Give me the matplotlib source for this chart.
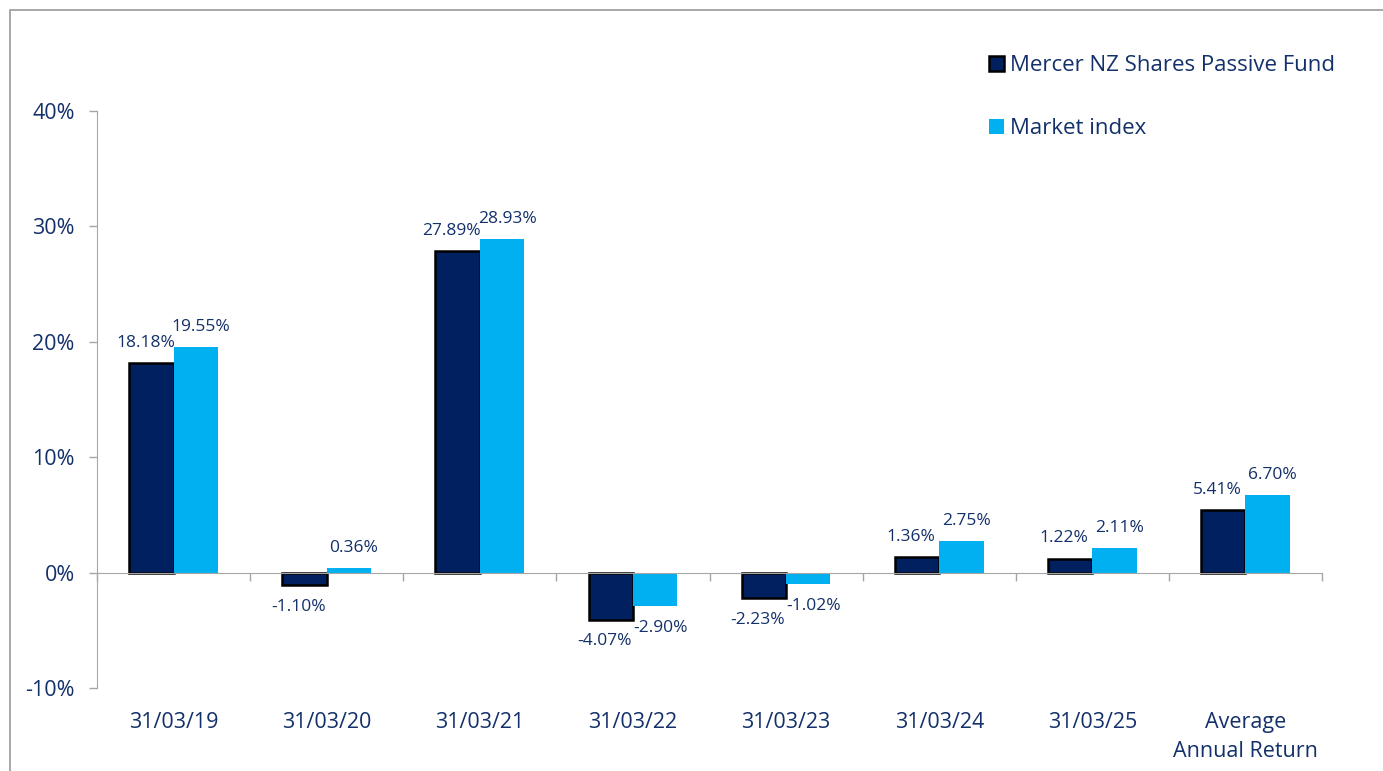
#!/usr/bin/env python3
"""Mercer NZ Shares Passive Fund vs market index, annual returns."""

import matplotlib
matplotlib.use("Agg")
import matplotlib.pyplot as plt
from matplotlib.patches import Patch, Rectangle
from matplotlib.ticker import FuncFormatter
import numpy as np

categories = ["31/03/19", "31/03/20", "31/03/21", "31/03/22", "31/03/23",
              "31/03/24", "31/03/25", "Average\nAnnual Return"]
fund_returns = [18.18, -1.10, 27.89, -4.07, -2.23, 1.36, 1.22, 5.41]
index_returns = [19.55, 0.36, 28.93, -2.90, -1.02, 2.75, 2.11, 6.70]
series_names = ["Mercer NZ Shares Passive Fund", "Market index"]
y_ticks = [-10, 0, 10, 20, 30, 40]

NAVY = "#002060"
CYAN = "#00B0F0"
TEXT = "#13306a"
GREY = "#a6a6a6"

plt.rcParams['font.family'] = ['Open Sans', 'DejaVu Sans']

W, H = 1383, 771
fig = plt.figure(figsize=(W / 100, H / 100), dpi=100)
ax = fig.add_axes([97 / W, 1 - 688 / H, (1322 - 97) / W, (688 - 111) / H])

# outer frame of the chart area
fig.add_artist(Rectangle((10 / W, -1), 2, 1 + (H - 10) / H, transform=fig.transFigure,
                         fill=False, edgecolor="#9a9a9a", linewidth=1.2))

x = np.arange(len(categories)) + 0.5
bw = 0.29
ax.bar(x - bw / 2, fund_returns, bw, color=NAVY, edgecolor="black", linewidth=1.8, zorder=2)
ax.bar(x + bw / 2, index_returns, bw, color=CYAN, linewidth=0, zorder=2)

# value labels
for xs, vals, dx in [(x - bw / 2, fund_returns, -6), (x + bw / 2, index_returns, 5)]:
    for xi, v in zip(xs, vals):
        off = 14.5 if v >= 0 else -15.5
        ax.annotate(f"{v:.2f}%", (xi, v), xytext=(dx * 0.72, off), textcoords="offset points",
                    ha="center", va="center", fontsize=12.5, color=TEXT)

ax.set_xlim(0, len(categories))
ax.set_ylim(y_ticks[0], y_ticks[-1])
ax.set_yticks(y_ticks)
ax.yaxis.set_major_formatter(FuncFormatter(lambda v, p: f"{v:.0f}%"))
ax.tick_params(axis="y", direction="out", length=6, width=1, color=GREY,
               labelsize=15.5, labelcolor=TEXT, pad=10)

# x axis sits at zero, ticks mark category boundaries
ax.spines["bottom"].set_position(("data", 0))
ax.spines["bottom"].set_color(GREY)
ax.spines["left"].set_color(GREY)
ax.spines["top"].set_visible(False)
ax.spines["right"].set_visible(False)
ax.set_xticks(np.arange(len(categories) + 1))
ax.set_xticklabels([])
ax.tick_params(axis="x", direction="out", length=6, width=1, color=GREY)

for xi, name in zip(x, categories):
    ax.annotate(name, (xi, 0), xycoords=("data", "axes fraction"), xytext=(0, -17),
                textcoords="offset points", ha="center", va="top", fontsize=15.5,
                color=TEXT, linespacing=1.5)

handles = [Patch(facecolor=NAVY, edgecolor="black", linewidth=1.8),
           Patch(facecolor=CYAN, linewidth=0)]
fig.legend(handles, series_names, loc="upper left", bbox_to_anchor=(978 / W, 1 - 44 / H),
           frameon=False, fontsize=16, labelcolor=TEXT, handlelength=0.65,
           handleheight=0.65, handletextpad=0.3, labelspacing=1.9, borderpad=0)

fig.savefig("out.png", dpi=100)
